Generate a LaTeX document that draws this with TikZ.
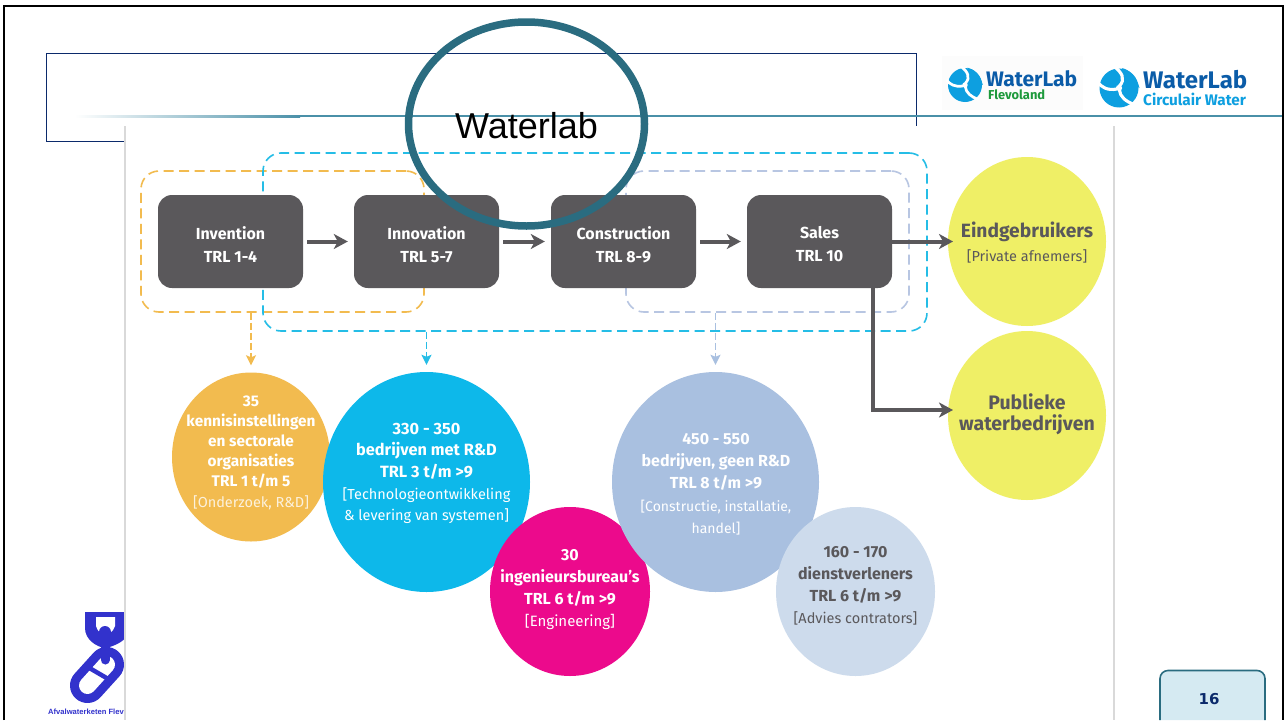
\documentclass[tikz,border=0pt]{standalone}
\usepackage{fontspec}
\setmainfont{Fira Sans}
\newfontfamily\arialf{Liberation Sans}
\newfontfamily\dejaf{DejaVu Sans}
\usetikzlibrary{shapes.geometric,arrows.meta,calc}
\definecolor{teal1}{HTML}{2A6C80}
\definecolor{rule1}{HTML}{4A90A8}
\definecolor{dark1}{HTML}{5A585B}
\definecolor{oran1}{HTML}{F2BB4F}
\definecolor{cyan1}{HTML}{0DB8EA}
\definecolor{dcyan}{HTML}{25BDE6}
\definecolor{mage1}{HTML}{EC0A8C}
\definecolor{peri1}{HTML}{A9C0E0}
\definecolor{dperi}{HTML}{B8C6E2}
\definecolor{lblu1}{HTML}{CDDBEC}
\definecolor{yell1}{HTML}{EFEF66}
\definecolor{logob}{HTML}{0D9FE0}
\definecolor{logod}{HTML}{0B5CA8}
\definecolor{logog}{HTML}{1E9A3C}
\definecolor{chain}{HTML}{3232CC}
\definecolor{navy1}{HTML}{0B2A6B}
\definecolor{pagebg}{HTML}{D5EAF2}
\newcommand{\lite}[2][14.5]{{\mdseries\fontsize{#1}{20}\selectfont #2}}
\tikzset{
  x=1pt,y=-1pt,
  stage/.style={draw=none,fill=dark1,rounded corners=14pt,minimum width=145pt,minimum height=93pt,inner sep=0pt},
  stagetext/.style={text=white,align=center,inner sep=0pt,font=\bfseries\fontsize{16}{23}\selectfont},
  blob/.style={ellipse,inner sep=0pt,draw=none},
  blobtext/.style={text=white,align=center,inner sep=0pt},
  dashframe/.style={draw,rounded corners=18pt,dash pattern=on 10pt off 5.5pt,line width=1.6pt,inner sep=0pt},
  garrow/.style={draw=dark1,line width=4pt,-{Stealth[length=14pt,width=15pt,inset=4pt]}},
  darrow/.style={line width=1.6pt,dash pattern=on 7pt off 3pt,-{Stealth[length=10pt,width=10pt,inset=2pt]}},
}
\newcommand{\wlmark}[3]{%
  \begin{scope}[shift={(#1,#2)},scale=#3]
    \fill[logob] (0,0) circle (1);
    \fill[logob] (0.15,-1.02) .. controls (0.5,-0.95) and (0.9,-0.6) .. (1.05,0) -- (0.6,-0.3) -- cycle;
    \draw[white,line width=#3*0.16pt] (-0.1,0.05) .. controls (-0.6,0.15) and (-0.9,-0.05) .. (-1.1,-0.3);
    \draw[white,line width=#3*0.16pt] (0.02,-0.1) .. controls (0.35,-0.45) and (0.15,-0.8) .. (-0.25,-1.1);
    \draw[white,line width=#3*0.16pt] (0.02,0.1) .. controls (0.05,0.45) and (0.35,0.7) .. (0.8,0.85);
    \fill[white] (0,0) circle (0.16);
  \end{scope}}
\begin{document}
\begin{tikzpicture}
\useasboundingbox (0,0) rectangle (1284,720);
\fill[white] (0,0) rectangle (1284,720);
% slide frame
\draw[black,line width=2pt] (4,720) -- (4,6) -- (1283,6) -- (1283,720);
% title box
\draw[navy1,line width=1pt] (46,53) rectangle (916,141);
% teal rule
\shade[left color=white,right color=rule1] (75,115) rectangle (300,117.4);
\fill[rule1] (300,115) rectangle (1282,117.4);
% logos
\fill[black!1] (942,56) rectangle (1083,110);
\wlmark{965}{85}{17}
\node[anchor=west,inner sep=0pt,text=logod,font=\bfseries\fontsize{21}{21}\selectfont] (wl1) at (986,79) {WaterLab};
\node[anchor=west,inner sep=0pt,text=logog,font=\bfseries\fontsize{12.9}{13}\selectfont] (wl1b) at (988,95) {Flevoland};
\wlmark{1119}{88}{19.5}
\node[anchor=west,inner sep=0pt,text=logod,font=\bfseries\fontsize{24}{24}\selectfont] (wl2) at (1143,80) {WaterLab};
\node[anchor=west,inner sep=0pt,text=logob,font=\bfseries\fontsize{15.3}{15}\selectfont] (wl2b) at (1143,99) {Circulair Water};
% chain logo
\fill[chain] (85,612) -- (85,628) .. controls (85,640) and (97,647) .. (105,648) .. controls (113,647) and (130,640) .. (130,628) -- (130,612) -- cycle;
\fill[white] (96,617) -- (96,626) .. controls (97,631) and (103,636) .. (105,636) .. controls (107,636) and (114,631) .. (115,626) -- (115,617) -- cycle;
\draw[chain,line width=35pt,line cap=round] (106.5,664.5) -- (87.5,685.5);
\draw[white,line width=17pt,line cap=round] (106.5,664.5) -- (87.5,685.5);
\draw[chain,line width=4.5pt] (86,666) -- (110,680);
\draw[chain,line width=9pt,line cap=round] (105,632) -- (105,660);
\fill[chain] (105,632) circle (6);
\node[anchor=west,inner sep=0pt,text=chain,font=\arialf\bfseries\fontsize{7.6}{8}\selectfont] (afv) at (48,712) {Afvalwaterketen Flev};
% embedded picture
\fill[white] (125,126) rectangle (1114,720);
\draw[black!15,line width=1.2pt] (125,126) -- (125,720);
\draw[black!15,line width=1.2pt] (1114,126) -- (1114,720);
% dashed frames
\node[dashframe,draw=dperi,minimum width=283pt,minimum height=141pt] (fL) at (767.5,241.5) {};
\node[dashframe,draw=oran1,minimum width=283pt,minimum height=141pt] (fO) at (282.5,241.5) {};
\node[dashframe,draw=dcyan,minimum width=664pt,minimum height=178pt] (fC) at (595,242) {};
% stages
\node[stage] (inv) at (230.5,241.5) {};
\node[stage] (inn) at (426.5,241.5) {};
\node[stage] (con) at (623.5,241.5) {};
\node[stage] (sal) at (819.5,241.5) {};
\node[stagetext] (invt) at (230.5,244.5) {Invention\\TRL 1-4};
\node[stagetext] (innt) at (426.5,244.5) {Innovation\\TRL 5-7};
\node[stagetext] (cont) at (623.5,244.5) {Construction\\TRL 8-9};
\node[stagetext] (salt) at (819.5,244.5) {Sales\\TRL 10};
% blobs
\node[blob,fill=oran1,minimum width=158pt,minimum height=169pt] (bO) at (251,457) {};
\node[blob,fill=cyan1,minimum width=207pt,minimum height=220pt] (bC) at (426.5,482) {};
\node[blob,fill=mage1,minimum width=160pt,minimum height=169pt] (bM) at (570,591.5) {};
\node[blob,fill=peri1,minimum width=207pt,minimum height=220pt] (bP) at (715.5,482) {};
\node[blob,fill=lblu1,minimum width=159pt,minimum height=169pt] (bL) at (855.5,591.5) {};
\node[blob,fill=yell1,minimum width=158pt,minimum height=169pt] (yA) at (1027,241.5) {};
\node[blob,fill=yell1,minimum width=158pt,minimum height=169pt] (yB) at (1027,415.5) {};
% blob texts
\node[blobtext,font=\bfseries\fontsize{15.4}{20.2}\selectfont] (tO) at (251,452.5) {35\\kennisinstellingen\\en sectorale\\organisaties\\TRL 1 t/m 5\\\lite{\color{white!80!oran1}[Onderzoek, R\&D]}};
\node[blobtext,font=\bfseries\fontsize{16.3}{21.7}\selectfont] (tC) at (426.5,473.5) {330 - 350\\bedrijven met R\&D\\TRL 3 t/m >9\\\lite{[Technologieontwikkeling}\\\lite{\& levering van systemen]}};
\node[blobtext,font=\bfseries\fontsize{16}{22}\selectfont] (tM) at (570,590) {30\\ingenieursbureau’s\\TRL 6 t/m >9\\\lite[15]{[Engineering]}};
\node[blobtext,font=\bfseries\fontsize{16}{22.3}\selectfont] (tP) at (716,484) {450 - 550\\bedrijven, geen R\&D\\TRL 8 t/m >9\\\lite[14]{[Constructie, installatie,}\\\lite[14]{handel]}};
\node[blobtext,text=dark1,font=\bfseries\fontsize{16}{22}\selectfont] (tL) at (855.5,586) {160 - 170\\dienstverleners\\TRL 6 t/m >9\\\lite{[Advies contrators]}};
\node[blobtext,text=dark1,font=\bfseries\fontsize{19.2}{24}\selectfont] (tA) at (1027,243) {Eindgebruikers\\\lite{[Private afnemers]}};
\node[blobtext,text=dark1,font=\bfseries\fontsize{19.5}{21.5}\selectfont] (tB) at (1027,414) {Publieke\\waterbedrijven};
% process arrows
\coordinate (yAin) at (953,241.5);
\coordinate (yBin) at (953,410);
\coordinate (salbend) at (873,410);
\draw[garrow,shorten <=4pt,shorten >=6pt] (inv.east) -- (inn.west);
\draw[garrow,shorten <=4pt,shorten >=6pt] (inn.east) -- (con.west);
\draw[garrow,shorten <=4pt,shorten >=6pt] (con.east) -- (sal.west);
\draw[garrow] (sal.east) -- (yAin);
\draw[garrow] (sal.south -| salbend) -- (salbend) -- (yBin);
% dashed arrows
\draw[darrow,draw=oran1] (fO.south -| bO.north) -- ($(bO.north)+(0,-7)$);
\draw[darrow,draw=dcyan] (fC.south -| bC.north) -- ($(bC.north)+(0,-7)$);
\draw[darrow,draw=peri1] (fL.south -| bP.north) -- ($(bP.north)+(0,-7)$);
% page number
\draw[teal1,fill=pagebg,line width=1.6pt,rounded corners=8pt] (1160,720) -- (1160,670.5) -- (1265,670.5) -- (1265,720);
\node[inner sep=0pt,text=navy1,font=\dejaf\bfseries\fontsize{15}{15}\selectfont] (pg) at (1209,699) {16};
% title ellipse
\node[ellipse,draw=teal1,line width=7.5pt,minimum width=236pt,minimum height=204pt,inner sep=0pt] (ring) at (526.5,124) {};
\node[inner sep=0pt,text=black,font=\arialf\fontsize{36}{36}\selectfont] (ttl) at (526.5,126) {Waterlab};
\end{tikzpicture}
\end{document}
